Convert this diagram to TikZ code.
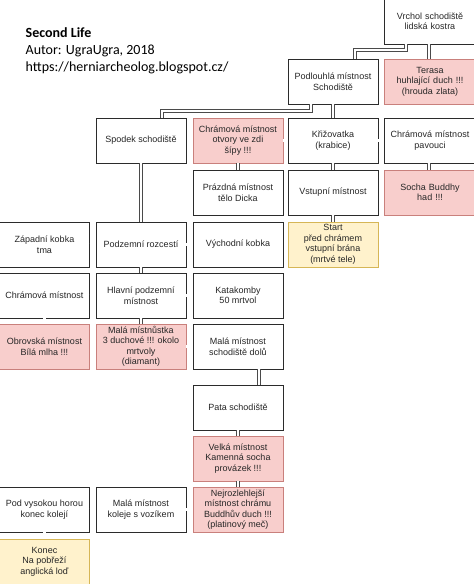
\documentclass[tikz,border=0pt]{standalone}
\usepackage{fontspec}
\setmainfont{Liberation Sans}
\newfontfamily\titlefont{Carlito}
\definecolor{pinkfill}{HTML}{F8CECC}
\definecolor{pinkline}{HTML}{C9807C}
\definecolor{yelfill}{HTML}{FFF2CC}
\definecolor{yelline}{HTML}{D6B656}
\definecolor{boxline}{HTML}{2B2B2B}
\definecolor{linkline}{HTML}{4A4A4A}
\definecolor{txt}{HTML}{262626}
\begin{document}
\begin{tikzpicture}[x=1pt,y=-1pt,
  room/.style={draw=boxline, fill=white, line width=0.8pt, minimum width=90pt, minimum height=45pt,
    inner sep=1pt, outer sep=0pt, anchor=north west, align=center, text=txt,
    font=\fontsize{9}{10.5}\selectfont},
  danger/.style={room, draw=pinkline, fill=pinkfill},
  goal/.style={room, draw=yelline, fill=yelfill},
  edgecol/.style={minimum width=92pt, text width=88pt},
  link/.style={draw=linkline, line width=0.6pt, double=white, double distance=2.2pt},
  ttl/.style={anchor=base west, inner sep=0pt, font=\titlefont\fontsize{14}{17}\selectfont}]
\useasboundingbox (0,0) rectangle (474,584);
\clip (0,0) rectangle (474,584);
\fill[white] (0,0) rectangle (474,584);

% title
\node[ttl] (t1) at (25.5,37) {\bfseries Second Life};
\node[ttl] (t2) at (25.5,54.5) {Autor: UgraUgra, 2018};
\node[ttl] (t3) at (25.5,71.5) {https://herniarcheolog.blogspot.cz/};

% rooms
\node[room,edgecol]   (vrchol)  at (384,-1)  {Vrchol schodiště\\lidská kostra};
\node[danger,edgecol] (terasa)  at (384,59)  {Terasa\\huhlající duch !!!\\(hrouda zlata)};
\node[room]   (podl)    at (288,59)  {Podlouhlá místnost\\Schodiště};

\node[room]   (spodek)  at (96,118)  {Spodek schodiště};
\node[danger] (otvory)  at (193,118) {Chrámová místnost\\otvory ve zdi\\šípy !!!};
\node[room]   (kriz)    at (288,118) {Křižovatka\\(krabice)};
\node[room,edgecol]   (pavouci) at (384,118) {Chrámová místnost\\pavouci};

\node[room]   (prazdna) at (193,170) {Prázdná místnost\\tělo Dicka};
\node[room]   (vstupni) at (288,170) {Vstupní místnost};
\node[danger,edgecol] (socha)   at (384,170) {Socha Buddhy\\had !!!};

\node[room]   (zapadni) at (-0.5,222) {Západní kobka\\tma};
\node[room]   (podzemni) at (96,222) {Podzemní rozcestí};
\node[room]   (vychodni) at (193,222) {Východní kobka};
\node[goal]   (start)   at (288,222) {Start\\před chrámem\\vstupní brána\\(mrtvé tele)};

\node[room]   (chram)   at (-0.5,273) {Chrámová místnost};
\node[room]   (hlavni)  at (96,273)  {Hlavní podzemní\\místnost};
\node[room]   (katak)   at (193,273) {Katakomby\\50 mrtvol};

\node[danger] (obrovska) at (-0.5,324) {Obrovská místnost\\Bílá mlha !!!};
\node[danger] (mistnustka) at (96,324) {Malá místnůstka\\3 duchové !!! okolo\\mrtvoly\\(diamant)};
\node[room]   (malaschod) at (193,324) {Malá místnost\\schodiště dolů};

\node[room]   (pata)    at (193,385) {Pata schodiště};
\node[danger] (velka)   at (193,436) {Velká místnost\\Kamenná socha\\provázek !!!};
\node[danger] (nejroz)  at (193,487) {Nejrozlehlejší\\místnost chrámu\\Buddhův duch !!!\\(platinový meč)};
\node[room]   (podvys)  at (-0.5,487) {Pod vysokou horou\\konec kolejí};
\node[room]   (kolej)   at (96,487)  {Malá místnost\\koleje s vozíkem};
\node[goal]   (konec)   at (-0.5,539) {Konec\\Na pobřeží\\anglická loď};

% connectors
\draw[link] ([xshift=-24pt]vrchol.south) -- ++(0,6) -| ([xshift=22pt]podl.north);
\draw[link] ([xshift=-1pt]vrchol.south) -- ([xshift=-1pt]terasa.north);
\draw[link] ([xshift=-22pt]podl.south) -- ++(0,7) -| ([xshift=21pt]spodek.north);
\draw[link] (podl.south) -- (kriz.north);
\draw[link] (otvory.east) -- (kriz.west);
\draw[link] (kriz.east) -- (pavouci.west);
\draw[link] (otvory.south) -- (prazdna.north);
\draw[link] (kriz.south) -- (vstupni.north);
\draw[link] ([xshift=-1pt]pavouci.south) -- ([xshift=-1pt]socha.north);
\draw[link] (vstupni.south) -- (start.north);
\draw[link] (spodek.south) -- (podzemni.north);
\draw[link] (zapadni.east) -- (podzemni.west);
\draw[link] (podzemni.east) -- (vychodni.west);
\draw[link] (podzemni.south) -- (hlavni.north);
\draw[link] (chram.east) -- (hlavni.west);
\draw[link] (hlavni.east) -- (katak.west);
\draw[link] (chram.south) -- (obrovska.north);
\draw[link] (hlavni.south) -- (mistnustka.north);
\draw[link] (mistnustka.east) -- (malaschod.west);
\draw[link] ([xshift=21pt]malaschod.south) -- ([xshift=21pt]pata.north);
\draw[link] (pata.south) -- (velka.north);
\draw[link] (velka.south) -- (nejroz.north);
\draw[link] (podvys.east) -- (kolej.west);
\draw[link] (kolej.east) -- (nejroz.west);
\draw[link] (podvys.south) -- (konec.north);
\end{tikzpicture}
\end{document}
